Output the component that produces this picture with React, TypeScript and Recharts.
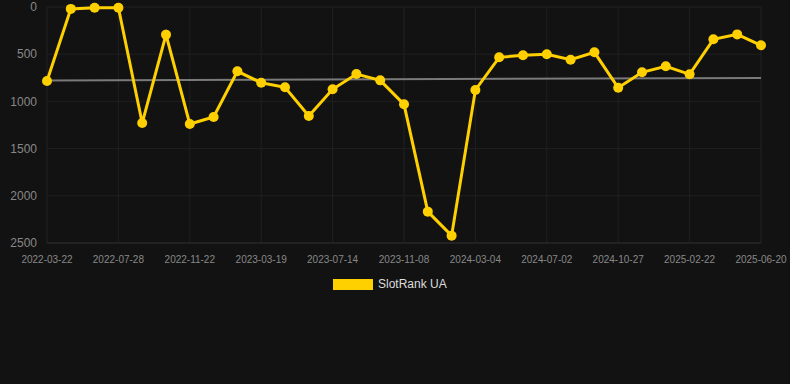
import { LineChart, Line, XAxis, YAxis, CartesianGrid, ReferenceLine } from "recharts";

const dates = [
  "2022-03-22", "2022-05-04", "2022-06-16", "2022-07-28", "2022-09-05", "2022-10-14",
  "2022-11-22", "2022-12-31", "2023-02-08", "2023-03-19", "2023-04-27", "2023-06-05",
  "2023-07-14", "2023-08-22", "2023-09-30", "2023-11-08", "2023-12-17", "2024-01-25",
  "2024-03-04", "2024-04-13", "2024-05-23", "2024-07-02", "2024-08-10", "2024-09-18",
  "2024-10-27", "2024-12-05", "2025-01-13", "2025-02-22", "2025-04-01", "2025-05-11",
  "2025-06-20",
];

const ranks = [
  784, 20, 8, 8, 1229, 293, 1240, 1165, 681, 802, 851, 1155, 872, 710, 777, 1031,
  2168, 2422, 879, 533, 512, 501, 558, 480, 855, 692, 628, 713, 342, 290, 406,
];

const trendEnds = [778, 752];
const yTicks = [0, 500, 1000, 1500, 2000, 2500];

const data = dates.map((date, i) => ({ date, rank: ranks[i] }));

const font = "Arial, 'Liberation Sans', sans-serif";

export default function App() {
  return (
    <div style={{ position: "absolute", left: 0, top: 0, width: 790, height: 384, background: "#121212", fontFamily: font }}>
      <LineChart width={790} height={384} data={data} margin={{ top: 7, right: 29, left: 0, bottom: 111 }}>
        <CartesianGrid stroke="#202020" />
        <XAxis
          dataKey="date"
          interval={2}
          tick={{ fontSize: 10, fill: "#888", fontFamily: font }}
          tickLine={false}
          axisLine={{ stroke: "#2c2c2c" }}
          tickMargin={7}
          height={30}
        />
        <YAxis
          reversed
          domain={[0, 2500]}
          ticks={yTicks}
          interval={0}
          width={47}
          tick={{ fontSize: 12, fill: "#888", fontFamily: font }}
          tickLine={false}
          axisLine={false}
          tickMargin={4}
        />
        <ReferenceLine
          segment={[
            { x: dates[0], y: trendEnds[0] },
            { x: dates[dates.length - 1], y: trendEnds[1] },
          ]}
          stroke="#7a7a7a"
          strokeWidth={2}
        />
        <Line
          type="linear"
          dataKey="rank"
          name="SlotRank UA"
          stroke="#ffd000"
          strokeWidth={3}
          dot={{ r: 5, fill: "#ffd000", stroke: "#ffd000", strokeWidth: 0 }}
          isAnimationActive={false}
        />
      </LineChart>
      <div style={{ position: "absolute", left: 333, top: 279, display: "flex", alignItems: "center" }}>
        <div style={{ width: 40, height: 11, background: "#ffd000" }} />
        <span style={{ marginLeft: 5, fontSize: 12, color: "#ddd", lineHeight: "11px" }}>SlotRank UA</span>
      </div>
    </div>
  );
}
